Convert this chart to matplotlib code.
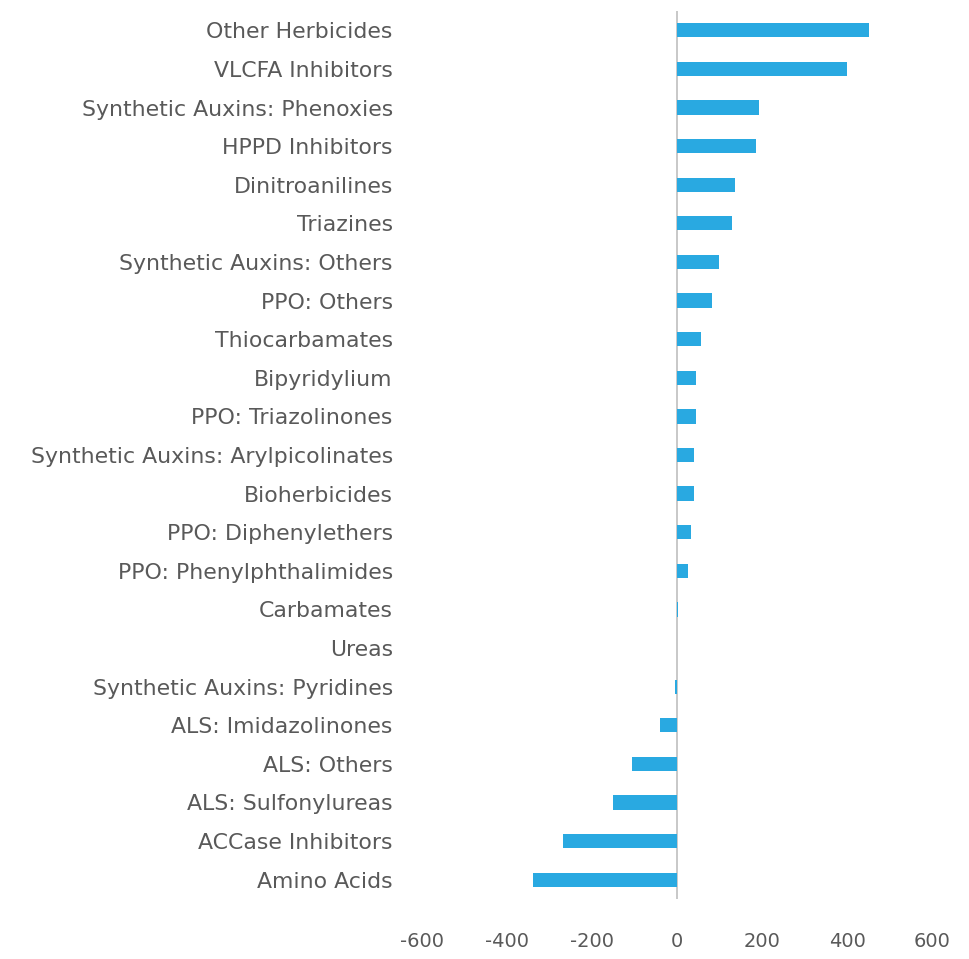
import matplotlib
matplotlib.use("Agg")
import matplotlib.pyplot as plt

categories = [
    "Other Herbicides", "VLCFA Inhibitors", "Synthetic Auxins: Phenoxies",
    "HPPD Inhibitors", "Dinitroanilines", "Triazines", "Synthetic Auxins: Others",
    "PPO: Others", "Thiocarbamates", "Bipyridylium", "PPO: Triazolinones",
    "Synthetic Auxins: Arylpicolinates", "Bioherbicides", "PPO: Diphenylethers",
    "PPO: Phenylphthalimides", "Carbamates", "Ureas", "Synthetic Auxins: Pyridines",
    "ALS: Imidazolinones", "ALS: Others", "ALS: Sulfonylureas", "ACCase Inhibitors",
    "Amino Acids",
]
values = [452, 399, 193, 185, 136, 129, 99, 82, 56, 45, 45, 40, 40, 32, 26,
          2, 1, -5, -40, -106, -151, -268, -339]
xticks = [-600, -400, -200, 0, 200, 400, 600]

plt.rcParams['font.family'] = ['DejaVu Sans']
fig = plt.figure(figsize=(9.69, 9.59), dpi=100)
ax = fig.add_axes([422/969, 1-899/959, (932-422)/969, (899-11)/959])

n = len(categories)
ypos = list(range(n))
ax.barh(ypos, values, height=0.37, color="#29A9E1")
ax.set_ylim(n - 0.5, -0.5)
ax.set_xlim(-600, 600)
ax.set_yticks(ypos)
ax.set_yticklabels(categories)
ax.set_xticks(xticks)
ax.set_xticklabels([str(t) for t in xticks])
ax.tick_params(axis='both', length=0, colors="#595959")
ax.tick_params(axis='y', pad=21, labelsize=15.8)
ax.tick_params(axis='x', pad=24, labelsize=14)
for s in ax.spines.values():
    s.set_visible(False)
ax.axvline(0, color="#BFBFBF", lw=1.2, zorder=0)

fig.savefig("out.png", dpi=100, facecolor="white")
